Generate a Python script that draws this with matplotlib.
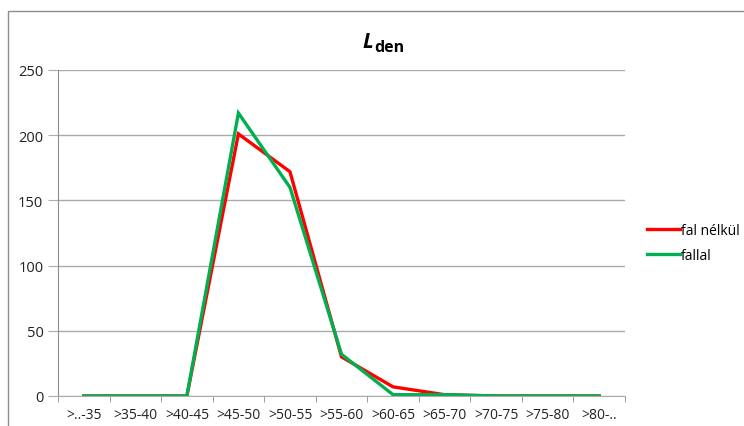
import matplotlib
matplotlib.use("Agg")
import matplotlib.pyplot as plt
from matplotlib.patches import Rectangle
from matplotlib.lines import Line2D

categories = [">..-35", ">35-40", ">40-45", ">45-50", ">50-55", ">55-60",
              ">60-65", ">65-70", ">70-75", ">75-80", ">80-.."]
fal_nelkul = [0, 0, 0, 201, 172, 30, 7, 1, 0, 0, 0]
fallal = [0, 0, 0, 217, 160, 32, 1, 1, 0, 0, 0]
yticks = [0, 50, 100, 150, 200, 250]

plt.rcParams['font.family'] = ['Open Sans', 'DejaVu Sans']

fig = plt.figure(figsize=(7.44, 4.27), dpi=100)
# outer chart border
fig.patches.append(Rectangle((8/744, -0.05), 1.0, 1 - 12/427 + 0.05,
                             transform=fig.transFigure, fill=False,
                             edgecolor='#8c8c8c', linewidth=1.0))

ax = fig.add_axes([58/744, 1 - 397/427, (625 - 58)/744, (397 - 71)/427])
x = list(range(len(categories)))
ax.plot(x, fal_nelkul, color='#FF0000', lw=2.4, label='fal nélkül', solid_joinstyle='miter')
ax.plot(x, fallal, color='#00B050', lw=2.4, label='fallal', solid_joinstyle='miter')

ax.set_xlim(-0.5, len(categories) - 0.5)
ax.set_ylim(0, 250)
ax.set_yticks(yticks)
ax.set_yticklabels([str(v) for v in yticks], fontsize=10.5, color='#222222')
ax.yaxis.grid(True, color='#ababab', lw=1)
ax.set_axisbelow(True)

ax.set_xticks(x)
ax.set_xticklabels(categories, fontsize=10, color='#222222')
ax.tick_params(axis='x', length=0, pad=8)
ax.set_xticks([i - 0.5 for i in range(len(categories) + 1)], minor=True)
ax.tick_params(axis='x', which='minor', length=4, color='#8c8c8c', direction='out')
ax.tick_params(axis='y', length=7, color='#ababab', pad=3.5, direction='out')

for s in ['top', 'right']:
    ax.spines[s].set_visible(False)
ax.spines['left'].set_color('#8c8c8c')
ax.spines['bottom'].set_color('#ababab')

# title L_den
fig.text(373/744, 1 - 48/427, 'L', fontsize=15, fontweight='bold', fontstyle='italic',
         ha='right', va='baseline')
fig.text(374/744, 1 - 52/427, 'den', fontsize=11.5, fontweight='bold',
         ha='left', va='baseline')

handles = [Line2D([], [], color='#FF0000', lw=2.4), Line2D([], [], color='#00B050', lw=2.4)]
fig.legend(handles, ['fal nélkül', 'fallal'], loc='center left',
           bbox_to_anchor=(634/744, 1 - 244/427), frameon=False, fontsize=10,
           handlelength=2.4, handletextpad=0.1, labelspacing=0.75)

fig.savefig('out.png', dpi=100)
